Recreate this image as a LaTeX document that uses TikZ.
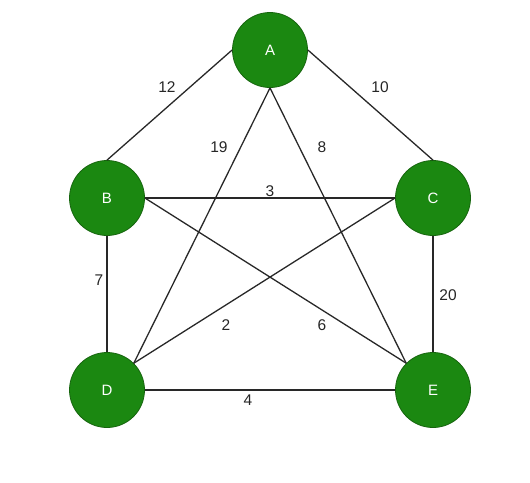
\documentclass[tikz,border=0pt]{standalone}
\usepackage{fontspec}
\setmainfont{Liberation Sans}
\usetikzlibrary{positioning}
\definecolor{vgreen}{RGB}{27,136,17}
\definecolor{vborder}{RGB}{22,100,14}
\definecolor{edgegray}{RGB}{40,40,40}

\begin{document}
\begin{tikzpicture}[
  x=1pt, y=-1pt,
  vertex/.style={circle, draw=vborder, fill=vgreen, line width=0.8pt, minimum size=75pt, inner sep=0pt, text=white, font=\fontsize{15}{15}\selectfont},
  edge/.style={draw=edgegray, line width=1.3pt},
  weight/.style={inner sep=1pt, text=black!85, font=\fontsize{15.5}{15.5}\selectfont}
]
\useasboundingbox (0,0) rectangle (530,482);
\node[vertex] (A) at (270,50) {A};
\node[vertex] (B) at (107,198) {B};
\node[vertex] (C) at (433,198) {C};
\node[vertex] (D) at (107,390) {D};
\node[vertex] (E) at (433,390) {E};
% edges, draw.io style fixed anchors
\draw[edge] (A.west) -- (B.north);
\draw[edge] (A.east) -- (C.north);
\draw[edge] (A.south) -- (D.north east);
\draw[edge] (A.south) -- (E.north west);
\draw[edge] (B.east) -- (C.west);
\draw[edge] (B.east) -- (E.north west);
\draw[edge] (C.west) -- (D.north east);
\draw[edge] (B.south) -- (D.north);
\draw[edge] (C.south) -- (E.north);
\draw[edge] (D.east) -- (E.west);
% weights
\node[weight] (wab) at (167,87) {12};
\node[weight] (wac) at (380,87) {10};
\node[weight] (wad) at (219,147) {19};
\node[weight] (wae) at (322,147) {8};
\node[weight] (wbc) at (270,191) {3};
\node[weight] (wbd) at (99,280) {7};
\node[weight] (wce) at (448,295) {20};
\node[weight] (wcd) at (226,325) {2};
\node[weight] (wbe) at (322,325) {6};
\node[weight] (wde) at (248,400) {4};
\end{tikzpicture}
\end{document}
